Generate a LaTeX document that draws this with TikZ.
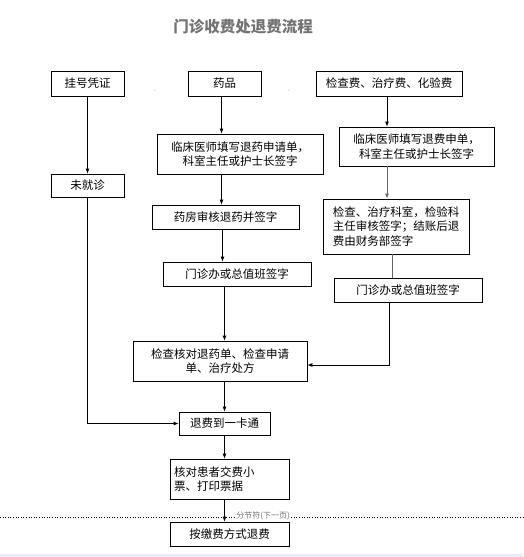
\documentclass[tikz,border=0pt]{standalone}
\usepackage{fontspec}
\setmainfont{Noto Sans CJK SC}
\usepackage{tikz}
\usetikzlibrary{arrows.meta,positioning,calc}

\begin{document}
\begin{tikzpicture}[x=1pt, y=-1pt, font=\fontsize{11.5}{14.5}\selectfont,
    box/.style={draw, line width=0.8pt, inner sep=2pt, align=center},
    lbox/.style={box, align=left},
    arr/.style={-{Latex[length=5pt, width=4pt]}, line width=0.8pt},
    link/.style={line width=0.8pt}]
  \useasboundingbox (0,0) rectangle (523,557);
  % --- title ---
  \node[font=\fontsize{15.5}{18}\selectfont\bfseries, text=black!55] (title) at (243,27) {门诊收费处退费流程};
  % --- top row ---
  \node[box, minimum width=73pt, minimum height=25pt] (reg)  at (87.5,83.5)  {挂号凭证};
  \node[box, minimum width=73pt, minimum height=25pt] (drug) at (224.5,83.5) {药品};
  \node[box, minimum width=146pt, minimum height=25pt] (exam) at (389,83.5) {检查费、治疗费、化验费};
  \node[text=black!50, font=\tiny] (commaA) at (155,91) {,};
  \node[text=black!50, font=\tiny] (commaB) at (289,91) {,};
  % --- left column ---
  \node[box, minimum width=73pt, minimum height=23pt] (noVisit) at (87.5,185.5) {未就诊};
  % --- drug column ---
  \node[box, minimum width=166pt, minimum height=40pt] (drugReq) at (240,154) {临床医师填写退药申请单，\\科室主任或护士长签字};
  \node[box, minimum width=147pt, minimum height=24pt] (pharm) at (225.5,217) {药房审核退药并签字};
  \node[box, minimum width=148pt, minimum height=24pt] (officeL) at (237,274) {门诊办或总值班签字};
  % --- exam column ---
  \node[box, minimum width=155pt, minimum height=39pt] (examReq) at (416.5,146.5) {临床医师填写退费申单，\\科室主任或护士长签字};
  \node[lbox, minimum width=146pt, minimum height=55pt] (examDept) at (396,226.5) {检查、治疗科室，检验科\\主任审核签字；结账后退\\费由财务部签字};
  \node[box, minimum width=148pt, minimum height=24pt] (officeR) at (408,290) {门诊办或总值班签字};
  % --- common path ---
  \node[box, minimum width=174pt, minimum height=40pt] (check) at (220,361) {检查核对退药单、检查申请\\单、治疗处方};
  \node[box, minimum width=91pt, minimum height=23pt] (card) at (224.5,423.5) {退费到一卡通};
  \node[lbox, minimum width=119pt, minimum height=40pt, text width=111pt] (verify) at (229.5,479) {核对患者交费小\\票、打印票据};
  \node[box, minimum width=119pt, minimum height=24pt] (refund) at (229.5,534) {按缴费方式退费};
  % --- section break ---
  \draw[dotted, line width=0.6pt] (0,517) -- (523,517);
  \node[fill=white, inner sep=1pt, text=black!55, font=\fontsize{8}{9}\selectfont] (brk) at (263,515.5) {分节符(下一页)};
  \fill[blue!8] (0,554) rectangle (523,557);
  % --- connectors ---
  \draw[arr] (reg) -- (noVisit);
  \draw[arr] (noVisit.south) |- (card.west);
  \draw[arr] ([xshift=-3pt]drug.south) -- ([xshift=-3pt]drug.south |- drugReq.north);
  \draw[arr] ([xshift=-3pt]drug.south |- drugReq.south) -- ([xshift=-3pt]drug.south |- pharm.north);
  \draw[arr] ([xshift=-3pt]pharm.south) -- ([xshift=-3pt]pharm.south |- officeL.north);
  \draw[arr] (card.north |- officeL.south) -- (card.north |- check.north);
  \draw[arr] (card.north |- check.south) -- (card.north);
  \draw[arr] (card.south) -- (card.south |- verify.north);
  \draw[arr] (card.south |- verify.south) -- (card.south |- refund.north);
  \draw[arr] ([xshift=-2pt]exam.south) -- ([xshift=-2pt]exam.south |- examReq.north);
  \draw[arr, black!60] ([xshift=-2pt]exam.south |- examReq.south) -- ([xshift=-2pt]exam.south |- examDept.north);
  \draw[link, black!60] ([xshift=-4pt]examDept.south) -- ([xshift=-4pt]examDept.south |- officeR.north);
  \draw[arr] ([xshift=-19pt]officeR.south) |- ([yshift=-4pt]check.east);
\end{tikzpicture}
\end{document}
